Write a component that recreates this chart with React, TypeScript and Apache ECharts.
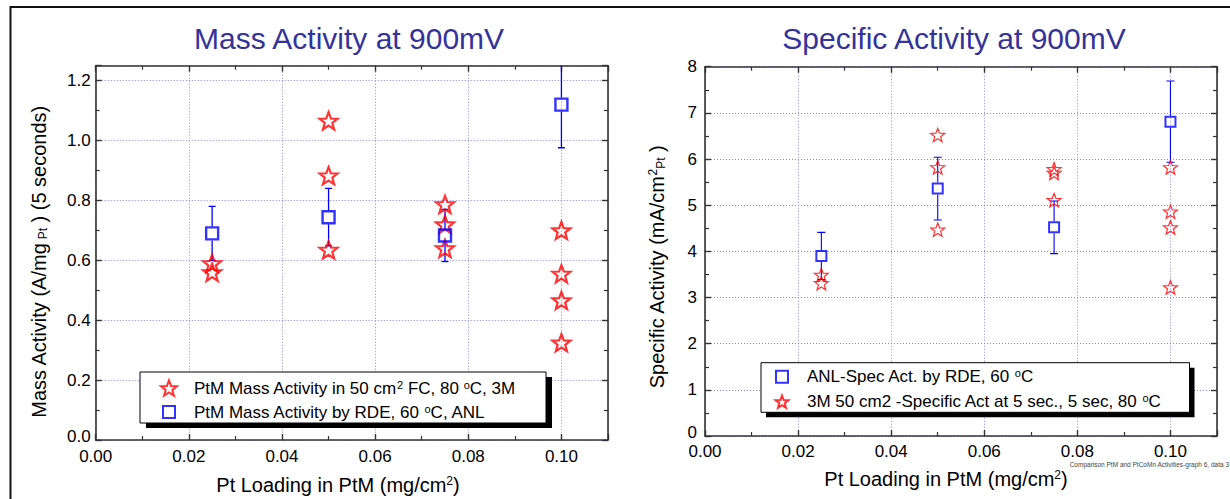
import React, { useEffect, useRef } from 'react';
import * as echarts from 'echarts';

const FONT = "'Liberation Sans', Arial, Helvetica, sans-serif";

// ---------- data ----------
const xTickLabels = ['0.00', '0.02', '0.04', '0.06', '0.08', '0.10'];
const massTickLabels = ['0.0', '0.2', '0.4', '0.6', '0.8', '1.0', '1.2'];
const specTickLabels = ['0', '1', '2', '3', '4', '5', '6', '7', '8'];

// Mass activity (A/mg Pt)
const massLoading3M = [0.025, 0.025, 0.05, 0.05, 0.05, 0.075, 0.075, 0.075, 0.1, 0.1, 0.1, 0.1];
const mass3M = [0.59, 0.56, 1.066, 0.883, 0.635, 0.787, 0.72, 0.64, 0.70, 0.555, 0.466, 0.325];
const massLoadingANL = [0.025, 0.05, 0.075, 0.1];
const massANL = [0.69, 0.744, 0.683, 1.12];
const massANLErr = [0.09, 0.096, 0.087, 0.144];

// Specific activity (mA/cm2 Pt)
const specLoading3M = [0.025, 0.025, 0.05, 0.05, 0.05, 0.075, 0.075, 0.075, 0.1, 0.1, 0.1, 0.1];
const spec3M = [3.49, 3.31, 6.52, 5.82, 4.47, 5.78, 5.70, 5.11, 5.82, 4.86, 4.52, 3.22];
const specLoadingANL = [0.025, 0.05, 0.075, 0.1];
const specANL = [3.90, 5.36, 4.52, 6.81];
const specANLErr = [0.51, 0.68, 0.57, 0.88];

const NAME_MASS_3M = 'PtM Mass Activity in 50 cm2 FC, 80 °C, 3M';
const NAME_MASS_ANL = 'PtM Mass Activity by RDE, 60 °C, ANL';
const NAME_SPEC_ANL = 'ANL-Spec Act. by RDE, 60 °C';
const NAME_SPEC_3M = '3M 50 cm2 -Specific Act at 5 sec., 5 sec, 80 °C';

const LEGEND_RICH: Record<string, string> = {
  [NAME_MASS_3M]: '{n|PtM Mass Activity in 50 cm}{sup|2}{n| FC, 80 }{sup|o}{n|C, 3M}',
  [NAME_MASS_ANL]: '{n|PtM Mass Activity by RDE, 60 }{sup|o}{n|C, ANL}',
  [NAME_SPEC_ANL]: '{n|ANL-Spec Act. by RDE, 60 }{sup|o}{n|C}',
  [NAME_SPEC_3M]: '{n|3M 50 cm2 -Specific Act at 5 sec., 5 sec, 80 }{sup|o}{n|C}',
};

const STAR =
  'path://M0,-10 L2.469,-3.398 L9.511,-3.09 L3.994,1.298 L5.878,8.09 L0,4.2 L-5.878,8.09 L-3.994,1.298 L-9.511,-3.09 L-2.469,-3.398 Z';
const SQUARE = 'path://M0,0 L10,0 L10,10 L0,10 Z';

const zip2 = (a: number[], b: number[]) => a.map((v, i) => [v, b[i]]);
const zip3 = (a: number[], b: number[], c: number[]) => a.map((v, i) => [v, b[i], c[i]]);

// Tick label lookup; the lowest label is lifted slightly so it clears the x labels
const labelFrom = (labels: string[], liftFirst = false) => (v: number) => {
  const idx = labels.findIndex((l) => Math.abs(parseFloat(l) - v) < 1e-9);
  if (idx < 0) return '';
  return liftFirst && idx === 0 ? `{lo|${labels[idx]}}` : labels[idx];
};

const makeErrRender = (cap: number, gap: number, width: number) => (params: any, api: any) => {
  const x = api.value(0);
  const y = api.value(1);
  const e = api.value(2);
  const c = api.coord([x, y]);
  const hi = api.coord([x, y + e]);
  const lo = api.coord([x, y - e]);
  const style = { stroke: '#0000ff', lineWidth: width };
  return {
    type: 'group',
    children: [
      { type: 'line', shape: { x1: c[0], y1: hi[1], x2: c[0], y2: c[1] - gap }, style },
      { type: 'line', shape: { x1: c[0], y1: c[1] + gap, x2: c[0], y2: lo[1] }, style },
      { type: 'line', shape: { x1: c[0] - cap, y1: hi[1], x2: c[0] + cap, y2: hi[1] }, style },
      { type: 'line', shape: { x1: c[0] - cap, y1: lo[1], x2: c[0] + cap, y2: lo[1] }, style },
    ],
  };
};

const AXIS_COLOR = '#333333';
const GRID_COLOR = '#8080ff';

const richStyles = {
  n: { fontSize: 17, fontFamily: FONT, color: '#000', lineHeight: 18 },
  sup: { fontSize: 11, fontFamily: FONT, color: '#000', verticalAlign: 'top', lineHeight: 10 },
};

const nameRich = {
  n: { fontSize: 20, fontFamily: FONT, fill: '#000', lineHeight: 20 },
  sup: { fontSize: 12, fontFamily: FONT, fill: '#000', verticalAlign: 'top', lineHeight: 10 },
  sub: { fontSize: 12, fontFamily: FONT, fill: '#000', verticalAlign: 'bottom', lineHeight: 10 },
};

function baseAxis(extra: any) {
  return {
    type: 'value',
    axisLine: { show: true, onZero: false, lineStyle: { color: AXIS_COLOR, width: 1.6 } },
    axisTick: { show: true, inside: true, length: 6, lineStyle: { color: AXIS_COLOR, width: 1.4 } },
    minorTick: { show: true, splitNumber: 2, length: 4, lineStyle: { color: AXIS_COLOR, width: 1.2 } },
    ...extra,
  };
}

function legendItem(name: string, left: number, top: number, size: number, textPad: number) {
  return {
    data: [name],
    orient: 'vertical',
    left,
    top,
    padding: 0,
    itemWidth: size,
    itemHeight: size,
    symbolKeepAspect: true,
    selectedMode: false,
    z: 20,
    formatter: (n: string) => LEGEND_RICH[n] || n,
    textStyle: { fontFamily: FONT, fontSize: 17, color: '#000', padding: [0, 0, 0, textPad], rich: richStyles },
  };
}

export default function App() {
  const ref = useRef<HTMLDivElement>(null);

  useEffect(() => {
    if (!ref.current) return;
    const chart = echarts.init(ref.current, undefined, { renderer: 'svg' });

    const xLabel = (margin: number) => ({
      show: true,
      margin,
      lineHeight: 14,
      fontFamily: FONT,
      fontSize: 17,
      color: '#000',
      formatter: labelFrom(xTickLabels),
    });

    const yLabel = (margin: number, labels: string[], lift: number) => ({
      margin,
      lineHeight: 14,
      fontFamily: FONT,
      fontSize: 17,
      color: '#000',
      formatter: labelFrom(labels, true),
      rich: {
        lo: { fontFamily: FONT, fontSize: 17, color: '#000', lineHeight: 14, padding: [0, 0, lift * 2, 0] },
      },
    });

    const option: any = {
      animation: false,
      backgroundColor: '#ffffff',
      grid: [
        { left: 95.7, top: 65.7, width: 512.3, height: 374.3 },
        { left: 705, top: 66.7, width: 512, height: 369.3 },
      ],
      xAxis: [
        baseAxis({
          gridIndex: 0, position: 'bottom', min: 0, max: 0.11, interval: 0.02,
          axisLabel: xLabel(9),
          splitLine: { show: true, lineStyle: { color: GRID_COLOR, type: [1, 2], width: 1 } },
        }),
        baseAxis({
          gridIndex: 0, position: 'top', min: 0, max: 0.11, interval: 0.02,
          axisLabel: { show: false }, splitLine: { show: false },
        }),
        baseAxis({
          gridIndex: 1, position: 'bottom', min: 0, max: 0.11, interval: 0.02,
          axisLabel: xLabel(8),
          splitLine: { show: true, lineStyle: { color: GRID_COLOR, type: [1, 2], width: 1 } },
        }),
        baseAxis({
          gridIndex: 1, position: 'top', min: 0, max: 0.11, interval: 0.02,
          axisLabel: { show: false }, splitLine: { show: false },
        }),
      ],
      yAxis: [
        baseAxis({
          gridIndex: 0, position: 'left', min: 0, max: 1.25, interval: 0.2,
          axisLabel: yLabel(5, massTickLabels, 4),
          splitLine: { show: true, lineStyle: { color: GRID_COLOR, type: [1, 2], width: 1 } },
        }),
        baseAxis({
          gridIndex: 0, position: 'right', min: 0, max: 1.25, interval: 0.2,
          axisLabel: { show: false }, splitLine: { show: false },
        }),
        baseAxis({
          gridIndex: 1, position: 'left', min: 0, max: 8, interval: 1,
          axisLabel: yLabel(8, specTickLabels, 4),
          splitLine: { show: true, lineStyle: { color: GRID_COLOR, type: [1, 2], width: 1 } },
        }),
        baseAxis({
          gridIndex: 1, position: 'right', min: 0, max: 8, interval: 1,
          axisLabel: { show: false }, splitLine: { show: false },
        }),
      ],
      legend: [
        legendItem(NAME_MASS_3M, 160, 379, 16, 12),
        legendItem(NAME_MASS_ANL, 162, 403, 12, 14),
        legendItem(NAME_SPEC_ANL, 775, 367.7, 12, 14),
        legendItem(NAME_SPEC_3M, 774.5, 392.7, 13, 13.5),
      ],
      series: [
        {
          name: 'ANL mass activity error',
          type: 'custom',
          xAxisIndex: 0,
          yAxisIndex: 0,
          clip: true,
          z: 2,
          data: zip3(massLoadingANL, massANL, massANLErr),
          encode: { x: 0, y: 1 },
          renderItem: makeErrRender(3.5, 7, 1.3),
        },
        {
          name: NAME_MASS_3M,
          type: 'scatter',
          xAxisIndex: 0,
          yAxisIndex: 0,
          symbol: STAR,
          symbolSize: 18,
          symbolKeepAspect: true,
          itemStyle: { color: 'rgba(255,255,255,0)', borderColor: '#ff0000', borderWidth: 2.2 },
          data: zip2(massLoading3M, mass3M),
          z: 3,
        },
        {
          name: NAME_MASS_ANL,
          type: 'scatter',
          xAxisIndex: 0,
          yAxisIndex: 0,
          symbol: SQUARE,
          symbolSize: 12,
          symbolKeepAspect: true,
          itemStyle: { color: 'rgba(255,255,255,0)', borderColor: '#0000ff', borderWidth: 2.4 },
          data: zip2(massLoadingANL, massANL),
          z: 4,
        },
        {
          name: 'ANL specific activity error',
          type: 'custom',
          xAxisIndex: 2,
          yAxisIndex: 2,
          clip: true,
          z: 2,
          data: zip3(specLoadingANL, specANL, specANLErr),
          encode: { x: 0, y: 1 },
          renderItem: makeErrRender(4, 6, 1.1),
        },
        {
          name: NAME_SPEC_ANL,
          type: 'scatter',
          xAxisIndex: 2,
          yAxisIndex: 2,
          symbol: SQUARE,
          symbolSize: 10,
          symbolKeepAspect: true,
          itemStyle: { color: 'rgba(255,255,255,0)', borderColor: '#0000ff', borderWidth: 2 },
          data: zip2(specLoadingANL, specANL),
          z: 4,
        },
        {
          name: NAME_SPEC_3M,
          type: 'scatter',
          xAxisIndex: 2,
          yAxisIndex: 2,
          symbol: STAR,
          symbolSize: 14,
          symbolKeepAspect: true,
          itemStyle: { color: 'rgba(255,255,255,0)', borderColor: '#ff0000', borderWidth: 1.2 },
          data: zip2(specLoading3M, spec3M),
          z: 3,
        },
      ],
      graphic: [
        // outer frame (top and left)
        { type: 'line', z: 30, shape: { x1: 10, y1: 7, x2: 1230, y2: 7 }, style: { stroke: '#111', lineWidth: 2 } },
        { type: 'line', z: 30, shape: { x1: 10.5, y1: 6, x2: 10.5, y2: 499 }, style: { stroke: '#111', lineWidth: 2 } },
        // titles
        {
          type: 'text', x: 349, y: 38, z: 30,
          style: { text: 'Mass Activity at 900mV', fill: '#333399', font: `30px ${FONT}`, align: 'center', verticalAlign: 'middle' },
        },
        {
          type: 'text', x: 954, y: 38, z: 30,
          style: { text: 'Specific Activity at 900mV', fill: '#333399', font: `30px ${FONT}`, align: 'center', verticalAlign: 'middle' },
        },
        // axis names
        {
          type: 'text', x: 338, y: 485, z: 30,
          style: { text: '{n|Pt Loading in PtM (mg/cm}{sup|2}{n|)}', rich: nameRich, align: 'center', verticalAlign: 'middle' },
        },
        {
          type: 'text', x: 946, y: 479, z: 30,
          style: { text: '{n|Pt Loading in PtM (mg/cm}{sup|2}{n|)}', rich: nameRich, align: 'center', verticalAlign: 'middle' },
        },
        {
          type: 'text', x: 39, y: 262, z: 30, rotation: Math.PI / 2,
          style: { text: '{n|Mass Activity (A/mg}{sub| Pt}{n| ) (5 seconds)}', rich: nameRich, align: 'center', verticalAlign: 'middle' },
        },
        {
          type: 'text', x: 657, y: 267, z: 30, rotation: Math.PI / 2,
          style: { text: '{n|Specific Activity (mA/cm}{sup|2}{sub|Pt}{n| )}', rich: nameRich, align: 'center', verticalAlign: 'middle' },
        },
        // legend boxes (shadow + frame)
        { type: 'rect', z: 10, shape: { x: 146, y: 377, width: 406, height: 51 }, style: { fill: '#000' } },
        { type: 'rect', z: 11, shape: { x: 140, y: 372, width: 406, height: 51 }, style: { fill: '#fff', stroke: '#000', lineWidth: 1 } },
        { type: 'rect', z: 10, shape: { x: 766, y: 367.7, width: 428.5, height: 49.6 }, style: { fill: '#000' } },
        { type: 'rect', z: 11, shape: { x: 761, y: 362.7, width: 428.5, height: 49.6 }, style: { fill: '#fff', stroke: '#000', lineWidth: 1 } },
        // footnote
        {
          type: 'text', x: 1229, y: 464.5, z: 30,
          style: { text: 'Comparison PtM and PtCoMn Activities-graph 6, data 3', fill: '#444', font: `6.5px ${FONT}`, align: 'right', verticalAlign: 'middle' },
        },
      ],
    };

    chart.setOption(option);
    return () => chart.dispose();
  }, []);

  return (
    <div
      ref={ref}
      style={{ position: 'fixed', left: 0, top: 0, width: 1230, height: 499, background: '#fff' }}
    />
  );
}
